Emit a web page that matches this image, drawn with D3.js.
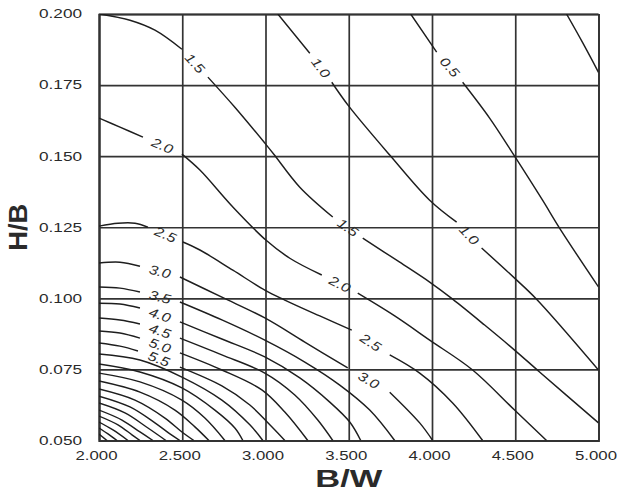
<!DOCTYPE html>
<html>
<head>
<meta charset="utf-8">
<script src="https://cdn.jsdelivr.net/npm/d3@7"></script>
<style>
  html, body { margin: 0; padding: 0; background: #fff; }
  svg { display: block; }
</style>
</head>
<body>
<script>
// ---- data ----
const xTicks = [2.0, 2.5, 3.0, 3.5, 4.0, 4.5, 5.0];
const yTicks = [0.05, 0.075, 0.1, 0.125, 0.15, 0.175, 0.2];
const xTitle = "B/W";
const yTitle = "H/B";

// contour polylines, [B/W, H/B]; null marks the gap where the level label sits
const c00 = [[4.808,0.200],[4.904,0.190],[5.0,0.1795]];
const c05 = [[3.872,0.200],[4.028,0.1866],null,[4.184,0.176],[4.346,0.1634],[4.496,0.150],[4.664,0.1345],[4.766,0.1247],[5.0,0.104]];
const c10 = [[3.074,0.200],[3.266,0.1862],null,[3.398,0.176],[3.5,0.1676],[3.746,0.1504],[3.986,0.1345],[4.148,0.1268],null,[4.298,0.1177],[4.496,0.1071],[4.628,0.0997],[5.0,0.0748]];
const c15 = [[2.006,0.200],[2.186,0.1978],[2.336,0.1943],[2.498,0.1876],null,[2.654,0.1778],[2.816,0.1672],[2.996,0.1546],[3.05,0.1507],[3.206,0.1391],[3.404,0.1286],null,[3.584,0.1212],[3.806,0.1127],[3.986,0.1057],[4.124,0.0997],[4.316,0.0906],[4.496,0.0818],[4.646,0.0741],[5.0,0.0562]];
const c20 = [[2.0,0.1634],[2.126,0.1602],[2.264,0.1567],null,[2.498,0.1507],[2.606,0.1451],[2.804,0.1321],[3.002,0.1205],[3.146,0.1141],[3.338,0.1082],null,[3.554,0.1018],[3.776,0.0938],[3.986,0.0853],[4.244,0.0748],[4.496,0.0607],[4.688,0.05]];
const c25 = [[2.0,0.1254],[2.114,0.1264],[2.216,0.1264],[2.294,0.1250],null,[2.504,0.1198],[2.606,0.1170],[2.804,0.1099],[2.996,0.1029],[3.116,0.0994],[3.326,0.0938],[3.518,0.0888],null,[3.746,0.0801],[3.926,0.0737],[4.124,0.0632],[4.304,0.05]];
const c30 = [[2.0,0.1124],[2.126,0.1127],[2.246,0.1113],null,[2.486,0.1075],[2.738,0.1004],[2.996,0.0931],[3.236,0.0846],[3.494,0.0755],null,[3.746,0.0670],[3.926,0.0562],[4.004,0.05]];
const c35 = [[2.0,0.1040],[2.126,0.1036],[2.246,0.1022],null,[2.486,0.0987],[2.738,0.0924],[2.996,0.0853],[3.236,0.0776],[3.446,0.0695],[3.626,0.0607],[3.776,0.05]];
const c40 = [[2.0,0.0983],[2.126,0.0980],[2.246,0.0966],null,[2.486,0.0917],[2.738,0.0857],[2.996,0.0794],[3.206,0.0720],[3.386,0.0635],[3.506,0.0565],[3.572,0.05]];
const c45 = [[2.0,0.0931],[2.126,0.0924],[2.246,0.0910],null,[2.486,0.0860],[2.738,0.0801],[2.996,0.0737],[3.176,0.0660],[3.314,0.0572],[3.404,0.05]];
const c50 = [[2.0,0.0885],[2.126,0.0878],[2.246,0.0860],null,[2.486,0.0808],[2.738,0.0748],[2.978,0.0678],[3.116,0.0600],[3.254,0.05]];
const c55 = [[2.0,0.0843],[2.126,0.0832],[2.234,0.0815],null,[2.486,0.0758],[2.738,0.0692],[2.906,0.0625],[3.026,0.0555],[3.116,0.05]];
const c60 = [[2.0,0.0804],[2.246,0.0783],[2.498,0.0723],[2.738,0.0642],[2.906,0.0555],[2.984,0.05]];
const c65 = [[2.0,0.0769],[2.246,0.0741],[2.498,0.0685],[2.696,0.0607],[2.816,0.0544],[2.864,0.05]];
const c70 = [[2.0,0.0737],[2.246,0.0706],[2.498,0.0642],[2.636,0.0579],[2.756,0.05]];
const c75 = [[2.0,0.0709],[2.246,0.0670],[2.456,0.0607],[2.576,0.0548],[2.66,0.05]];
const c80 = [[2.0,0.0681],[2.216,0.0642],[2.396,0.0579],[2.498,0.0530],[2.57,0.05]];
const c85 = [[2.0,0.0656],[2.186,0.0618],[2.336,0.0562],[2.426,0.0523],[2.486,0.05]];
const c90 = [[2.0,0.0632],[2.156,0.0597],[2.294,0.0544],[2.402,0.05]];
const c95 = [[2.0,0.0607],[2.138,0.0572],[2.246,0.0530],[2.324,0.05]];
const c100 = [[2.0,0.0586],[2.114,0.0555],[2.198,0.0520],[2.246,0.05]];
const c105 = [[2.0,0.0565],[2.084,0.0537],[2.174,0.05]];
const c110 = [[2.0,0.0544],[2.054,0.0523],[2.108,0.05]];
const c115 = [[2.0,0.0523],[2.048,0.05]];

const levels = [0.0,0.5,1.0,1.5,2.0,2.5,3.0,3.5,4.0,4.5,5.0,5.5,6.0,6.5,7.0,7.5,8.0,8.5,9.0,9.5,10.0,10.5,11.0,11.5];
const contourPts = [c00,c05,c10,c15,c20,c25,c30,c35,c40,c45,c50,c55,c60,c65,c70,c75,c80,c85,c90,c95,c100,c105,c110,c115];

// ---- drawing ----
const W = 617, H = 493;
const svg = d3.select("body").append("svg").attr("width", W).attr("height", H);

const x = d3.scaleLinear().domain([2, 5]).range([99, 598.5]);
const y = d3.scaleLinear().domain([0.05, 0.2]).range([440.5, 14]);
const plotW = x.range()[1] - x.range()[0];
const plotH = y.range()[0] - y.range()[1];

const gridColor = "#333";
const textColor = "#2a2a2a";

// x axis with grid
const gx = svg.append("g")
  .attr("transform", `translate(0,${y.range()[0]})`)
  .call(d3.axisBottom(x).tickValues(xTicks).tickSize(-plotH).tickPadding(11).tickFormat(d3.format(".3f")));
gx.select(".domain").attr("stroke", gridColor).attr("stroke-width", 1.8);
gx.selectAll(".tick line").attr("stroke", gridColor).attr("stroke-width", 1.7);
gx.selectAll(".tick text")
  .attr("fill", textColor)
  .attr("dx", -3)
  .style("font-family", "'Liberation Sans', Arial, sans-serif")
  .style("font-size", "12px")
  .attr("textLength", 42).attr("lengthAdjust", "spacingAndGlyphs");

// y axis with grid
const gy = svg.append("g")
  .attr("transform", `translate(${x.range()[0]},0)`)
  .call(d3.axisLeft(y).tickValues(yTicks).tickSize(-plotW).tickPadding(17).tickFormat(d3.format(".3f")));
gy.select(".domain").attr("stroke", gridColor).attr("stroke-width", 1.8);
gy.selectAll(".tick line").attr("stroke", gridColor).attr("stroke-width", 1.7);
gy.selectAll(".tick text")
  .attr("fill", textColor)
  .style("font-family", "'Liberation Sans', Arial, sans-serif")
  .style("font-size", "12px")
  .attr("textLength", 43).attr("lengthAdjust", "spacingAndGlyphs");

// clip to plot
svg.append("clipPath").attr("id", "plotclip")
  .append("rect").attr("x", x.range()[0]).attr("y", y.range()[1]).attr("width", plotW).attr("height", plotH);

const line = d3.line()
  .defined(d => d !== null)
  .x(d => x(d[0])).y(d => y(d[1]))
  .curve(d3.curveCatmullRom.alpha(0.5));

const gc = svg.append("g").attr("clip-path", "url(#plotclip)");
contourPts.forEach((pts) => {
  gc.append("path")
    .attr("d", line(pts))
    .attr("fill", "none")
    .attr("stroke", "#1e1e1e")
    .attr("stroke-width", 1.45)
    .attr("stroke-linejoin", "round");
});

// level labels at the gaps
const labels = [];
contourPts.forEach((pts, i) => {
  pts.forEach((p, j) => {
    if (p === null) {
      const a = pts[j - 1], b = pts[j + 1];
      const ax = x(a[0]), ay = y(a[1]), bx = x(b[0]), by = y(b[1]);
      labels.push({
        text: d3.format(".1f")(levels[i]),
        cx: (ax + bx) / 2, cy: (ay + by) / 2,
        ang: Math.atan2(by - ay, bx - ax) * 180 / Math.PI
      });
    }
  });
});
svg.append("g").selectAll("text").data(labels).join("text")
  .attr("transform", d => `translate(${d.cx},${d.cy}) rotate(${d.ang})`)
  .attr("text-anchor", "middle")
  .attr("dy", "0.35em")
  .attr("fill", textColor)
  .style("font-family", "'Liberation Sans', Arial, sans-serif")
  .style("font-style", "italic")
  .style("font-size", "13px")
  .attr("textLength", 22).attr("lengthAdjust", "spacingAndGlyphs")
  .text(d => d.text);

// axis titles
svg.append("text")
  .attr("x", (x.range()[0] + x.range()[1]) / 2)
  .attr("y", 487)
  .attr("text-anchor", "middle")
  .attr("fill", textColor)
  .style("font-family", "'Liberation Sans', Arial, sans-serif")
  .style("font-weight", "bold")
  .style("font-size", "24px")
  .attr("textLength", 67).attr("lengthAdjust", "spacingAndGlyphs")
  .text(xTitle);

svg.append("text")
  .attr("transform", `translate(27,${(y.range()[0] + y.range()[1]) / 2}) rotate(-90)`)
  .attr("text-anchor", "middle")
  .attr("fill", textColor)
  .style("font-family", "'Liberation Sans', Arial, sans-serif")
  .style("font-weight", "bold")
  .style("font-size", "26px")
  .attr("textLength", 47).attr("lengthAdjust", "spacingAndGlyphs")
  .text(yTitle);
</script>
</body>
</html>
